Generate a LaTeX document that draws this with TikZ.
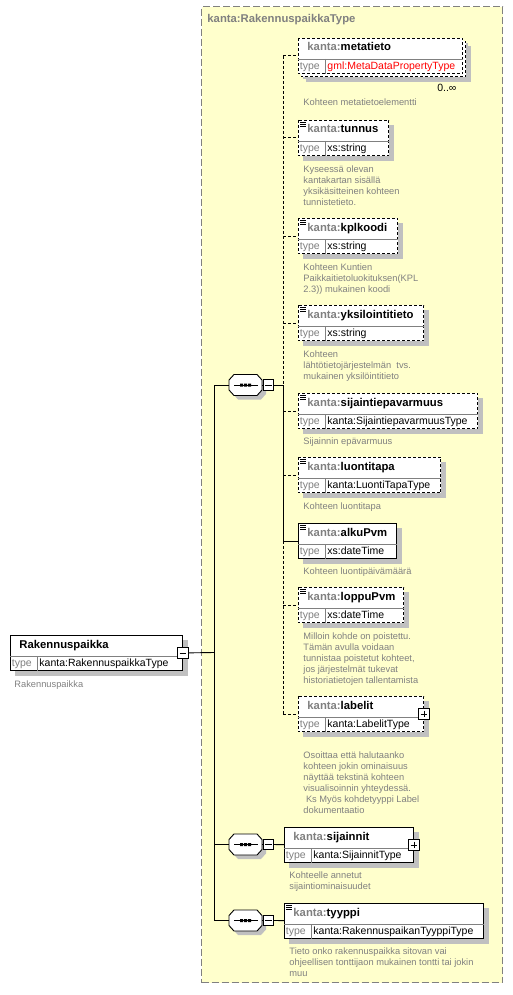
\documentclass[tikz,border=0pt]{standalone}
\usepackage{fontspec}
\setmainfont{Liberation Sans}
\usepackage{xcolor}
\usetikzlibrary{shapes.misc, positioning}

\definecolor{kantagray}{RGB}{128,128,128}
\definecolor{kantayellow}{RGB}{255,255,204}
\definecolor{kantashade}{RGB}{192,192,192}

\newcommand{\kantapfx}{\textcolor{kantagray}{kanta:}}
\newcommand{\kantaback}[1]{}
% element box: shadow, header row and type row
\newcommand{\kantaelem}[6][]{%
  \node[elemspot, minimum width=#4, anchor=north west] (#2) at #3 {};
  \fill[kantashade] ([xshift=5pt,yshift=-5pt]#2.north west) rectangle ([xshift=5pt,yshift=-5pt]#2.south east);
  \kantaback{#2}
  \filldraw[elembox, #1] (#2.north west) rectangle (#2.south east);
  \draw[rowline] ([yshift=-21pt]#2.north west) -- ([yshift=-21pt]#2.north east);
  \draw[rowline] ([xshift=27pt,yshift=-21pt]#2.north west) -- ([xshift=27pt]#2.south west);
  \node[headtext] (#2-head) at ([xshift=9pt,yshift=-13pt]#2.north west) {#5};
  \node[typelabel] (#2-label) at ([xshift=1.5pt,yshift=4pt]#2.south west) {type};
  \node[typetext] (#2-type) at ([xshift=29pt,yshift=4pt]#2.south west) {#6};
}
% documentation mark in the corner of a box
\newcommand{\kantadoc}[1]{%
  \draw[line width=.7pt] ([xshift=2pt,yshift=-2pt]#1.north west) -- ++(6pt,0);
  \draw[line width=.7pt] ([xshift=2pt,yshift=-4pt]#1.north west) -- ++(6pt,0);
  \draw[line width=.7pt] ([xshift=2pt,yshift=-6pt]#1.north west) -- ++(6pt,0);
}
% sequence compositor: octagon with three dots
\newcommand{\kantaseq}[2]{%
  \node[seqbox] (#1) at #2 {};
  \fill[kantashade, shift={(#1.center)}, xshift=4pt, yshift=-4pt]
    (-16.5,-5) -- (-11.5,-10.5) -- (11.5,-10.5) -- (16.5,-5) -- (16.5,5) -- (11.5,10.5) -- (-11.5,10.5) -- (-16.5,5) -- cycle;
  \filldraw[fill=white, shift={(#1.center)}]
    (-16.5,-5) -- (-11.5,-10.5) -- (11.5,-10.5) -- (16.5,-5) -- (16.5,5) -- (11.5,10.5) -- (-11.5,10.5) -- (-16.5,5) -- cycle;
  \draw[shift={(#1.center)}] (-11.5,0) -- (12,0);
  \fill[shift={(#1.center)}] (-5.5,-1.5) rectangle (-2.5,1.5) (-1.5,-1.5) rectangle (1.5,1.5) (2.5,-1.5) rectangle (5.5,1.5);
}

\begin{document}
\begin{tikzpicture}[x=1pt, y=-1pt, line width=.9pt,
    container/.style={draw=kantagray, fill=kantayellow, dash pattern=on 7pt off 3pt, line width=1.2pt, inner sep=0},
    elemspot/.style={inner sep=0, minimum height=35pt},
    elembox/.style={draw=black, fill=white},
    optional/.style={dash pattern=on 3pt off 2pt},
    rowline/.style={draw=kantagray, line width=.8pt},
    headtext/.style={anchor=base west, inner sep=0, font=\fontsize{11.3}{13}\selectfont\bfseries},
    titletext/.style={anchor=base west, inner sep=0, text=kantagray, font=\fontsize{11.3}{13}\selectfont\bfseries},
    typelabel/.style={anchor=base west, inner sep=0, text=kantagray, font=\fontsize{10.5}{12}\selectfont},
    typetext/.style={anchor=base west, inner sep=0, font=\fontsize{10.5}{12}\selectfont},
    desc/.style={inner sep=0, align=left, text=kantagray, font=\fontsize{9.3}{11}\selectfont},
    seqbox/.style={inner sep=0, minimum width=33pt, minimum height=21pt},
    collapse/.style={draw, fill=white, inner sep=0, minimum size=10.5pt, line width=.8pt, path picture={
        \draw[line width=.8pt] ([xshift=2pt]path picture bounding box.west) -- ([xshift=-2pt]path picture bounding box.east);}},
    expand/.style={draw, fill=white, inner sep=0, minimum size=10.5pt, line width=.8pt, path picture={
        \draw[line width=.8pt] ([xshift=2pt]path picture bounding box.west) -- ([xshift=-2pt]path picture bounding box.east);
        \draw[line width=.8pt] ([yshift=-2pt]path picture bounding box.north) -- ([yshift=2pt]path picture bounding box.south);}}]

    \useasboundingbox (0,0) rectangle (512,995);

    %Complex type
    \node[container, minimum width=301pt, minimum height=976pt, anchor=north west] (typebox) at (201,6) {};
    \node[titletext] (typetitle) at ([xshift=6pt,yshift=-17pt]typebox.north west) {kanta:RakennuspaikkaType};

    %Nodes
    \kantaelem{root}{(10,635)}{172pt}{Rakennuspaikka}{kanta:RakennuspaikkaType}
    \node[desc, below right=9pt and 4pt of root.south west] (root-doc) {Rakennuspaikka};
    \node[collapse] (rootminus) at (root.east) {};

    \kantaseq{seqA}{(245.5,385)}
    \node[collapse] (seqAminus) at (268.5,385) {};
    \kantaseq{seqB}{(245.5,844.5)}
    \node[collapse] (seqBminus) at (268.5,844.5) {};
    \kantaseq{seqC}{(245.5,920.5)}
    \node[collapse] (seqCminus) at (268.5,920.5) {};

    % repeated element: a second box behind the first
    \begin{scope}
    \renewcommand{\kantaback}[1]{%
      \fill[kantashade] ([xshift=8pt,yshift=-8pt]#1.north west) rectangle ([xshift=8pt,yshift=-8pt]#1.south east);
      \filldraw[elembox, optional] ([xshift=3pt,yshift=-3pt]#1.north west) rectangle ([xshift=3pt,yshift=-3pt]#1.south east);}
    \kantaelem[optional]{metatieto}{(298,38)}{164pt}{\kantapfx metatieto}{\textcolor{red}{gml:MetaDataPropertyType}}
    \end{scope}
    \node[typetext, anchor=base east] (metatieto-occ) at ([xshift=-6pt,yshift=-18pt]metatieto.south east) {0..∞};
    \node[desc, below right=24pt and 5pt of metatieto.south west] (metatieto-doc) {Kohteen metatietoelementti};

    \kantaelem[optional]{tunnus}{(298,120)}{90pt}{\kantapfx tunnus}{xs:string}
    \kantadoc{tunnus}
    \node[desc, below right=9pt and 5pt of tunnus.south west] (tunnus-doc) {Kyseessä olevan\\kantakartan sisällä\\yksikäsitteinen kohteen\\tunnistetieto.};

    \kantaelem[optional]{kplkoodi}{(298,218)}{99pt}{\kantapfx kplkoodi}{xs:string}
    \kantadoc{kplkoodi}
    \node[desc, below right=9pt and 5pt of kplkoodi.south west] (kplkoodi-doc) {Kohteen Kuntien\\Paikkaitietoluokituksen(KPL\\2.3)) mukainen koodi};

    \kantaelem[optional]{yksilointitieto}{(298,305)}{125pt}{\kantapfx yksilointitieto}{xs:string}
    \kantadoc{yksilointitieto}
    \node[desc, below right=9pt and 5pt of yksilointitieto.south west] (yksilointitieto-doc) {Kohteen\\lähtötietojärjestelmän\ \ tvs.\\mukainen yksilöintitieto};

    \kantaelem[optional]{sijaintiepavarmuus}{(298,393)}{179pt}{\kantapfx sijaintiepavarmuus}{kanta:SijaintiepavarmuusType}
    \kantadoc{sijaintiepavarmuus}
    \node[desc, below right=8pt and 5pt of sijaintiepavarmuus.south west] (sijaintiepavarmuus-doc) {Sijainnin epävarmuus};

    \kantaelem[optional]{luontitapa}{(298,457)}{142pt}{\kantapfx luontitapa}{kanta:LuontiTapaType}
    \kantadoc{luontitapa}
    \node[desc, below right=9pt and 5pt of luontitapa.south west] (luontitapa-doc) {Kohteen luontitapa};

    \kantaelem{alkuPvm}{(298,523)}{98pt}{\kantapfx alkuPvm}{xs:dateTime}
    \kantadoc{alkuPvm}
    \node[desc, below right=8.5pt and 5pt of alkuPvm.south west] (alkuPvm-doc) {Kohteen luontipäivämäärä};

    \kantaelem[optional]{loppuPvm}{(298,587)}{105pt}{\kantapfx loppuPvm}{xs:dateTime}
    \kantadoc{loppuPvm}
    \node[desc, below right=9pt and 5pt of loppuPvm.south west] (loppuPvm-doc) {Milloin kohde on poistettu.\\Tämän avulla voidaan\\tunnistaa poistetut kohteet,\\jos järjestelmät tukevat\\historiatietojen tallentamista};

    \kantaelem[optional]{labelit}{(298,696)}{125pt}{\kantapfx labelit}{kanta:LabelitType}
    \node[expand] (labelitplus) at (labelit.east) {};
    \node[desc, below right=19.5pt and 5pt of labelit.south west] (labelit-doc) {Osoittaa että halutaanko\\kohteen jokin ominaisuus\\näyttää tekstinä kohteen\\visualisoinnin yhteydessä.\\\ Ks Myös kohdetyyppi Label\\dokumentaatio};

    \kantaelem{sijainnit}{(284,827)}{129pt}{\kantapfx sijainnit}{kanta:SijainnitType}
    \node[expand] (sijainnitplus) at (sijainnit.east) {};
    \node[desc, below right=8.5pt and 5pt of sijainnit.south west] (sijainnit-doc) {Kohteelle annetut\\sijaintiominaisuudet};

    \kantaelem{tyyppi}{(284,903)}{199pt}{\kantapfx tyyppi}{kanta:RakennuspaikanTyyppiType}
    \kantadoc{tyyppi}
    \node[desc, below right=8pt and 5pt of tyyppi.south west] (tyyppi-doc) {Tieto onko rakennuspaikka sitovan vai\\ohjeellisen tonttijaon mukainen tontti tai jokin\\muu};

    %Lines
    \coordinate (trunk) at (214,652.5);
    \coordinate (busA) at (283,385);
    \draw (rootminus) -- (trunk);
    \draw (trunk |- seqA) -- (trunk |- seqC);
    \draw (trunk |- seqA) -- (seqA);
    \draw (trunk |- seqB) -- (seqB);
    \draw (trunk |- seqC) -- (seqC);
    \draw (seqA) -- (seqAminus);
    \draw (seqB) -- (seqBminus);
    \draw (seqC) -- (seqCminus);
    \draw (seqAminus) -- (busA);
    \draw (seqBminus) -- (sijainnit);
    \draw (seqCminus) -- (tyyppi);
    \draw[optional] (busA |- metatieto) -- (busA);
    \draw (busA) -- (busA |- alkuPvm);
    \draw[optional] (busA |- alkuPvm) -- (busA |- labelit);
    \draw[optional] (busA |- metatieto) -- (metatieto);
    \draw[optional] (busA |- tunnus) -- (tunnus);
    \draw[optional] (busA |- kplkoodi) -- (kplkoodi);
    \draw[optional] (busA |- yksilointitieto) -- (yksilointitieto);
    \draw[optional] (busA |- sijaintiepavarmuus) -- (sijaintiepavarmuus);
    \draw[optional] (busA |- luontitapa) -- (luontitapa);
    \draw (busA |- alkuPvm) -- (alkuPvm);
    \draw[optional] (busA |- loppuPvm) -- (loppuPvm);
    \draw[optional] (busA |- labelit) -- (labelit);

\end{tikzpicture}
\end{document}
